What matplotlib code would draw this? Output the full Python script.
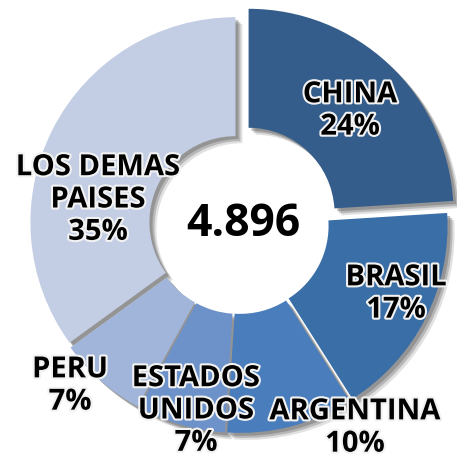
import matplotlib
matplotlib.use('Agg')
import matplotlib.pyplot as plt
import matplotlib.patheffects as pe

# data
countries = ['CHINA', 'BRASIL', 'ARGENTINA', 'ESTADOS\nUNIDOS', 'PERU', 'LOS DEMAS\nPAISES']
shares = [24, 17, 10, 7, 7, 35]
total_label = '4.896'
colors = ['#345d8b', '#3a6ea6', '#4a7dbb', '#6d91c9', '#a1b5da', '#c3cee4']
explode = [14, 4, 4, 4, 4, 4]  # pixels (pie treats explode as absolute offset)

W, H = 457, 461
fig = plt.figure(figsize=(W / 100, H / 100), dpi=100)
ax = fig.add_axes([0, 0, 1, 1])

cx, cy = 239, H - 224
R = 205
ring = 119

# soft gray shadow, offset down-right
for off, a in [(7, 0.2), (5, 0.35), (3, 0.45)]:
    ax.pie(shares, radius=R, center=(cx + off, cy - off), startangle=90,
           counterclock=False, explode=explode, colors=['#6a6a6a'] * len(shares),
           wedgeprops=dict(width=ring, linewidth=0, alpha=a), frame=True)

ax.pie(shares, radius=R, center=(cx, cy), startangle=90, counterclock=False,
       explode=explode, colors=colors, wedgeprops=dict(width=ring, linewidth=0),
       frame=True)
ax.set_xlim(0, W)
ax.set_ylim(0, H)
ax.set_aspect('equal')
ax.axis('off')

label_pos = [(350, 111), (396, 294), (355, 428), (196, 411), (70, 386), (98, 200)]
stroke = [pe.withStroke(linewidth=3, foreground='#f2f2f2')]
for name, val, (x, y) in zip(countries, shares, label_pos):
    ax.text(x, H - y, f'{name}\n{val}%', ha='center', va='center',
            fontsize=21, fontweight='bold', family='Open Sans',
            linespacing=1.15, color='black', path_effects=stroke)

ax.text(cx + 4, H - 225, total_label, ha='center', va='center', fontsize=32,
        fontweight='bold', family='Open Sans', color='black')

fig.savefig('out.png', dpi=100)
